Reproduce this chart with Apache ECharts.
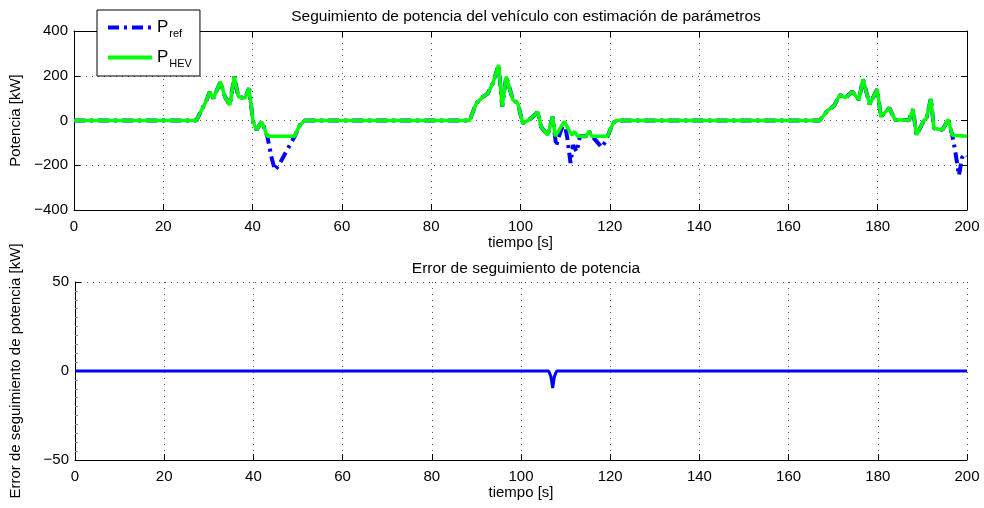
<!DOCTYPE html>
<html>
<head>
<meta charset="utf-8">
<title>Seguimiento de potencia</title>
<script src="https://cdn.jsdelivr.net/npm/echarts@6/dist/echarts.min.js"></script>
<style>
  html, body { margin: 0; padding: 0; background: #fff; }
  #chart { width: 984px; height: 508px; }
</style>
</head>
<body>
<div id="chart"></div>
<script>
// Time stamps [s] and power [kW] of the vehicle power tracking run
const hevTime = [0, 27.4, 29.7, 30.4, 31.2, 32.8, 33.8, 34.9, 35.9, 36.8, 38.3, 39.2, 40.1, 40.9, 42.0, 42.5, 43.3, 49.4, 50.6, 51.7,
  88.6, 90.1, 91.6, 92.7, 93.8, 95.1, 95.9, 96.8, 98.3, 99.4, 100.5, 102.4, 103.9, 104.6, 106.1, 107.2, 107.8, 109.8, 111.5, 112.1,
  112.8, 114.7, 115.3, 116.0, 119.5, 120.7, 121.4, 167.0, 168.8, 170.2, 171.5, 172.8, 174.3, 175.8, 176.7, 178.2, 179.9, 180.7,
  182.6, 183.9, 187.0, 187.9, 188.7, 190.4, 190.9, 191.9, 192.6, 194.5, 195.8, 196.7, 200];
const hevPower = [0, 0, 92, 128, 99, 173, 106, 69, 196, 106, 100, 144, -5, -42, -5, -27, -70, -70, -20, 0,
  0, 77, 106, 121, 166, 248, 62, 196, 92, 77, -13, 10, 39, -28, -65, 17, -70, -5, -65, -50,
  -70, -70, -47, -70, -70, -13, 0, 0, 45, 65, 114, 102, 130, 92, 185, 72, 140, 17,
  56, 3, 1, 50, -65, 2, 8, 98, -35, -42, 5, -66, -70];

const refTime = [0, 27.4, 29.7, 30.4, 31.2, 32.8, 33.8, 34.9, 35.9, 36.8, 38.3, 39.2, 40.1, 40.9, 42.0, 42.5, 43.3, 44.3, 45.0, 46.0,
  47.5, 49.4, 50.6, 51.7, 88.6, 90.1, 91.6, 92.7, 93.8, 95.1, 95.9, 96.8, 98.3, 99.4, 100.5, 102.4, 103.9, 104.6, 106.1, 107.2,
  108.0, 108.5, 109.8, 110.5, 111.2, 111.8, 112.6, 113.3, 114.7, 115.3, 116.0, 117.0, 118.2, 119.0, 119.5, 120.7, 121.4, 167.0,
  168.8, 170.2, 171.5, 172.8, 174.3, 175.8, 176.7, 178.2, 179.9, 180.7, 182.6, 183.9, 187.0, 187.9, 188.7, 190.4, 190.9, 191.9,
  192.6, 194.5, 195.8, 196.7, 197.3, 198.2, 198.9, 199.5, 200];
const refPower = [0, 0, 92, 128, 99, 173, 106, 69, 196, 106, 100, 144, -5, -42, -5, -27, -72, -170, -222, -195,
  -140, -72, -20, 0, 0, 77, 106, 121, 166, 248, 62, 196, 92, 77, -13, 10, 39, -28, -65, 17,
  -115, -75, -5, -80, -190, -110, -140, -70, -70, -47, -70, -92, -120, -95, -70, -13, 0, 0,
  45, 65, 114, 102, 130, 92, 185, 72, 140, 17, 56, 3, 1, 50, -65, 2, 8, 98,
  -35, -42, 5, -66, -130, -245, -165, -150, -158];

// Power tracking error [kW]
const errTime = [0, 106.2, 106.7, 107.1, 107.5, 108.0, 200];
const errValue = [0, 0, -3, -9.5, -3, 0, 0];

const xTicks = { min: 0, max: 200, interval: 20 };
const powerTicks = { min: -400, max: 400, interval: 200 };
const errTicks = { min: -50, max: 50, interval: 50 };

const zip = (a, b) => a.map((v, i) => [v, b[i]]);

const FONT = "'Liberation Sans', Arial, Helvetica, sans-serif";
const minus = v => (v < 0 ? '\u2212' + (-v) : String(v));
const dotted = { show: true, lineStyle: { color: '#555', type: [1, 5], width: 1 } };
const solidLine = { show: true, onZero: false, lineStyle: { color: '#000', width: 1 } };
const inTick = { show: true, inside: true, length: 6, lineStyle: { color: '#000' } };
const label = { color: '#000', fontSize: 15, fontFamily: FONT };
const titleStyle = { fontSize: 15.5, fontWeight: 'normal', color: '#000', fontFamily: FONT };

function xMain(grid) {
  return Object.assign({
    type: 'value', gridIndex: grid, position: 'bottom',
    axisLine: solidLine, axisTick: inTick,
    axisLabel: Object.assign({ margin: 9 }, label),
    splitLine: dotted,
    name: 'tiempo [s]', nameLocation: 'middle', nameGap: 25,
    nameTextStyle: label
  }, xTicks);
}

const chart = echarts.init(document.getElementById('chart'), null, { renderer: 'canvas' });

chart.setOption({
  animation: false,
  backgroundColor: '#fff',
  textStyle: { fontFamily: FONT },
  title: [
    { text: 'Seguimiento de potencia del vehículo con estimación de parámetros', left: 521, top: 4, textAlign: 'center',
      textStyle: titleStyle },
    { text: 'Error de seguimiento de potencia', left: 521, top: 256, textAlign: 'center', textStyle: titleStyle }
  ],
  legend: {
    data: ['P_ref', 'P_HEV'],
    orient: 'vertical', left: 97, top: 10,
    padding: [9, 8, 7, 9],
    itemWidth: 44, itemHeight: 16, itemGap: 10,
    itemStyle: { opacity: 0 },
    lineStyle: { width: 4 },
    backgroundColor: '#fff', borderColor: '#000', borderWidth: 1, borderRadius: 0,
    formatter: name => name === 'P_ref' ? '{b|P}{s|ref}' : '{b|P}{s|HEV}',
    textStyle: {
      rich: {
        b: { fontSize: 17, color: '#000', fontFamily: FONT },
        s: { fontSize: 11, color: '#000', fontFamily: FONT, padding: [12, 0, 0, 1] }
      }
    }
  },
  grid: [
    { left: 74, top: 31, width: 893, height: 179 },
    { left: 74, top: 282, width: 893, height: 178 }
  ],
  xAxis: [
    xMain(0),
    Object.assign({ type: 'value', gridIndex: 0, position: 'top', axisLine: solidLine, axisTick: inTick,
      axisLabel: { show: false }, splitLine: { show: false } }, xTicks),
    xMain(1)
  ],
  yAxis: [
    Object.assign({ type: 'value', gridIndex: 0, position: 'left', axisLine: solidLine, axisTick: inTick,
      axisLabel: Object.assign({ formatter: minus, margin: 6 }, label), splitLine: dotted,
      name: 'Potencia [kW]', nameLocation: 'middle', nameGap: 50, nameRotate: 90, nameTextStyle: label }, powerTicks),
    Object.assign({ type: 'value', gridIndex: 0, position: 'right', axisLine: solidLine, axisTick: inTick,
      axisLabel: { show: false }, splitLine: { show: false } }, powerTicks),
    Object.assign({ type: 'value', gridIndex: 1, position: 'left', axisLine: solidLine, axisTick: inTick,
      minorTick: { show: true, splitNumber: 10, length: 3, lineStyle: { color: '#888' } },
      axisLabel: Object.assign({ formatter: minus, margin: 6 }, label), splitLine: dotted,
      name: 'Error de seguimiento de potencia [kW]', nameLocation: 'middle', nameGap: 52, nameRotate: 90,
      nameTextStyle: label }, errTicks)
  ],
  series: [
    {
      name: 'P_ref', type: 'line', xAxisIndex: 0, yAxisIndex: 0,
      data: zip(refTime, refPower), symbol: 'none', z: 2,
      lineStyle: { color: '#0000ff', width: 4, type: [11, 5, 3, 5] }
    },
    {
      name: 'P_HEV', type: 'line', xAxisIndex: 0, yAxisIndex: 0,
      data: zip(hevTime, hevPower), symbol: 'none', z: 3,
      lineStyle: { color: '#00ff00', width: 3.5 }
    },
    {
      name: 'Error', type: 'line', xAxisIndex: 2, yAxisIndex: 2,
      data: zip(errTime, errValue), symbol: 'none', z: 3,
      lineStyle: { color: '#0000ff', width: 3 }
    }
  ]
});
</script>
</body>
</html>
